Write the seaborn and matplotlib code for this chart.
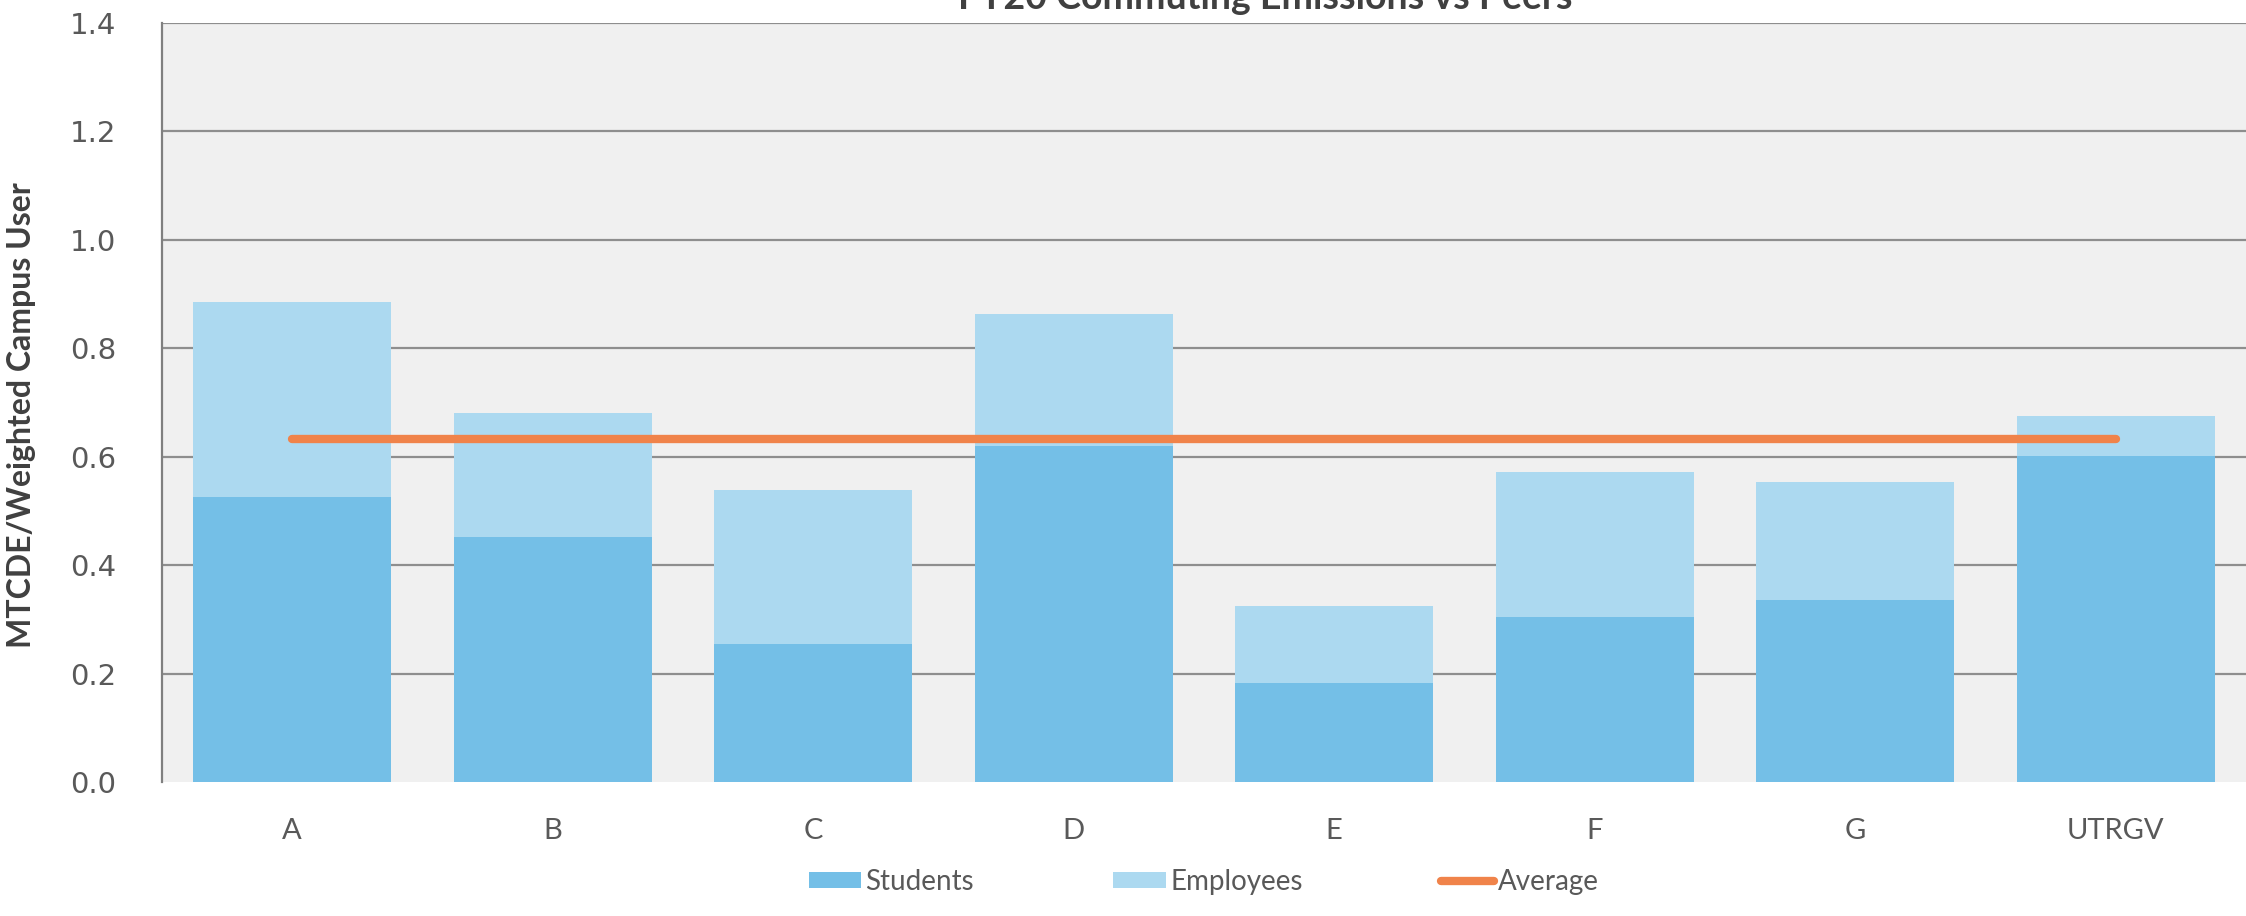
import matplotlib
matplotlib.use("Agg")
import matplotlib.pyplot as plt
import seaborn as sns
import pandas as pd
from matplotlib.patches import Patch
from matplotlib.lines import Line2D

# ---- data ----
categories = ["A", "B", "C", "D", "E", "F", "G", "UTRGV"]
students = [0.525, 0.451, 0.255, 0.619, 0.182, 0.304, 0.336, 0.602]
employees = [0.361, 0.229, 0.284, 0.245, 0.143, 0.268, 0.218, 0.073]
average = [0.633, 0.633, 0.633, 0.633, 0.633, 0.633, 0.633, 0.633]
yticks = [0.0, 0.2, 0.4, 0.6, 0.8, 1.0, 1.2, 1.4]
title = "FY20 Commuting Emissions vs Peers"
ylabel = "MTCDE/Weighted Campus User"

df = pd.DataFrame({"cat": categories, "Students": students, "Employees": employees,
                   "Average": average})
df["Total"] = df["Students"] + df["Employees"]

c_students = "#74BFE7"
c_employees = "#ACD9F0"
c_avg = "#F0834A"
c_grid = "#8E8E8E"
c_text = "#595959"

sns.set_theme(style="white")
plt.rcParams["font.family"] = ["Lato", "DejaVu Sans"]

fig = plt.figure(figsize=(22.46, 9.16), dpi=100)
ax = fig.add_axes([162 / 2246, (916 - 782) / 916, (2246 - 162) / 2246, 759 / 916])
ax.set_facecolor("#F0F0F0")

sns.barplot(data=df, x="cat", y="Total", color=c_employees, width=0.76,
            saturation=1, ax=ax, zorder=2, linewidth=0, edgecolor="none")
sns.barplot(data=df, x="cat", y="Students", color=c_students, width=0.76,
            saturation=1, ax=ax, zorder=3, linewidth=0, edgecolor="none")
sns.lineplot(data=df, x="cat", y="Average", color=c_avg, linewidth=6.0,
             ax=ax, zorder=4, solid_capstyle="round", legend=False)

ax.set_xlim(-0.5, 7.5)
ax.set_ylim(0, 1.4)
ax.set_yticks(yticks)
ax.set_yticklabels([f"{v:.1f}" for v in yticks], fontsize=21, color=c_text,
                   family="DejaVu Sans")
ax.tick_params(axis="y", length=0, pad=33)
ax.tick_params(axis="x", length=0, pad=26, labelsize=21, labelcolor=c_text)
ax.set_xlabel("")
ax.set_ylabel(ylabel, fontsize=23, fontweight="bold", color="#404040")
ax.yaxis.set_label_coords(-0.0605, 0.4835)

ax.yaxis.grid(True, color=c_grid, linewidth=1.6, zorder=1)
ax.set_axisbelow(True)
for gl in ax.get_ygridlines()[:1]:
    gl.set_visible(False)
for s in ["right", "bottom", "top"]:
    ax.spines[s].set_visible(False)
ax.spines["left"].set_color("#808080")
ax.spines["left"].set_linewidth(1.6)

handles = [Patch(facecolor=c_students, edgecolor="none", label="Students"),
           Patch(facecolor=c_employees, edgecolor="none", label="Employees"),
           Line2D([0], [0], color=c_avg, linewidth=6, label="Average")]
leg = fig.legend(handles=handles, loc="center", bbox_to_anchor=(1204 / 2246, 34 / 916),
                 ncol=3, frameon=False, fontsize=20, handlelength=1.9,
                 handleheight=0.5, handletextpad=0.15, columnspacing=5.0)
for t in leg.get_texts():
    t.set_color(c_text)

fig.text(1265 / 2246, 1 - 9 / 916, title, ha="center", va="baseline",
         fontsize=27, fontweight="bold", color="#404040")

fig.savefig("out.png", dpi=100, facecolor="white")
